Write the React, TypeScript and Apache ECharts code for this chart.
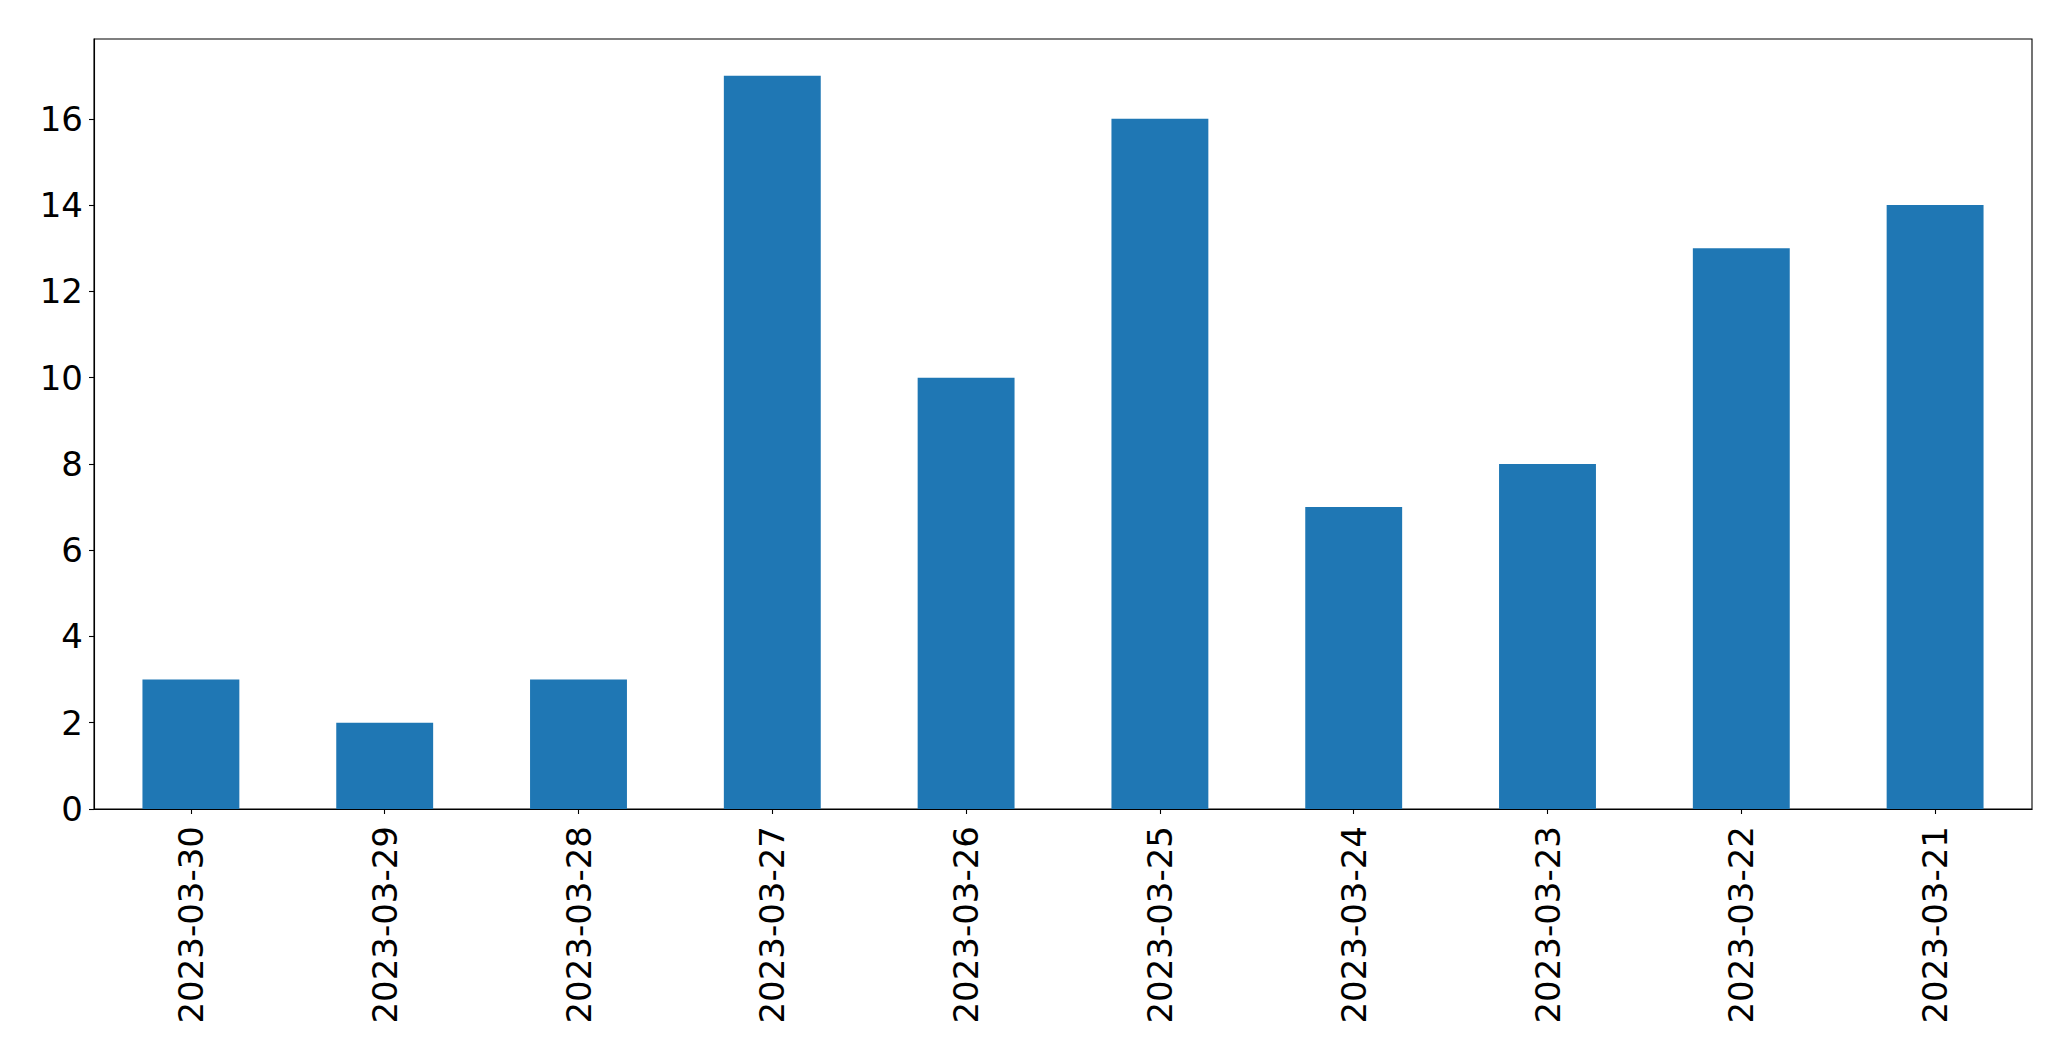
import React, { useEffect, useRef } from "react";
import * as echarts from "echarts";

const categories = [
  "2023-03-30",
  "2023-03-29",
  "2023-03-28",
  "2023-03-27",
  "2023-03-26",
  "2023-03-25",
  "2023-03-24",
  "2023-03-23",
  "2023-03-22",
  "2023-03-21",
];
const values = [3, 2, 3, 17, 10, 16, 7, 8, 13, 14];
const yTicks = [0, 2, 4, 6, 8, 10, 12, 14, 16];
const yMax = 17.85;

export default function App() {
  const ref = useRef<HTMLDivElement>(null);
  useEffect(() => {
    if (!ref.current) return;
    const chart = echarts.init(ref.current, undefined, { renderer: "svg" });
    const font = "DejaVu Sans";
    chart.setOption({
      animation: false,
      backgroundColor: "#ffffff",
      grid: {
        left: 94,
        right: 39,
        top: 39,
        bottom: 252,
        show: true,
        borderColor: "#000000",
        borderWidth: 1.1,
        backgroundColor: "transparent",
        containLabel: false,
      },
      xAxis: {
        type: "category",
        data: categories,
        boundaryGap: true,
        axisLine: { show: true, lineStyle: { color: "#000000", width: 1.1 } },
        axisTick: {
          show: true,
          alignWithLabel: true,
          length: 5,
          lineStyle: { color: "#000000", width: 1.1 },
        },
        axisLabel: {
          rotate: 90,
          interval: 0,
          margin: 17,
          fontSize: 34,
          fontFamily: font,
          color: "#000000",
        },
        splitLine: { show: false },
      },
      yAxis: {
        type: "value",
        min: 0,
        max: yMax,
        axisLine: { show: true, lineStyle: { color: "#000000", width: 1.1 } },
        axisTick: {
          show: true,
          length: 5,
          customValues: yTicks,
          lineStyle: { color: "#000000", width: 1.1 },
        },
        axisLabel: {
          customValues: yTicks,
          margin: 11,
          fontSize: 34,
          fontFamily: font,
          color: "#000000",
        },
        splitLine: { show: false },
      },
      series: [
        {
          type: "bar",
          data: values,
          barWidth: "50%",
          itemStyle: { color: "#1f77b4" },
        },
      ],
    });
    return () => chart.dispose();
  }, []);
  return (
    <div
      ref={ref}
      style={{ position: "fixed", left: 0, top: 0, width: 2071, height: 1061 }}
    />
  );
}
